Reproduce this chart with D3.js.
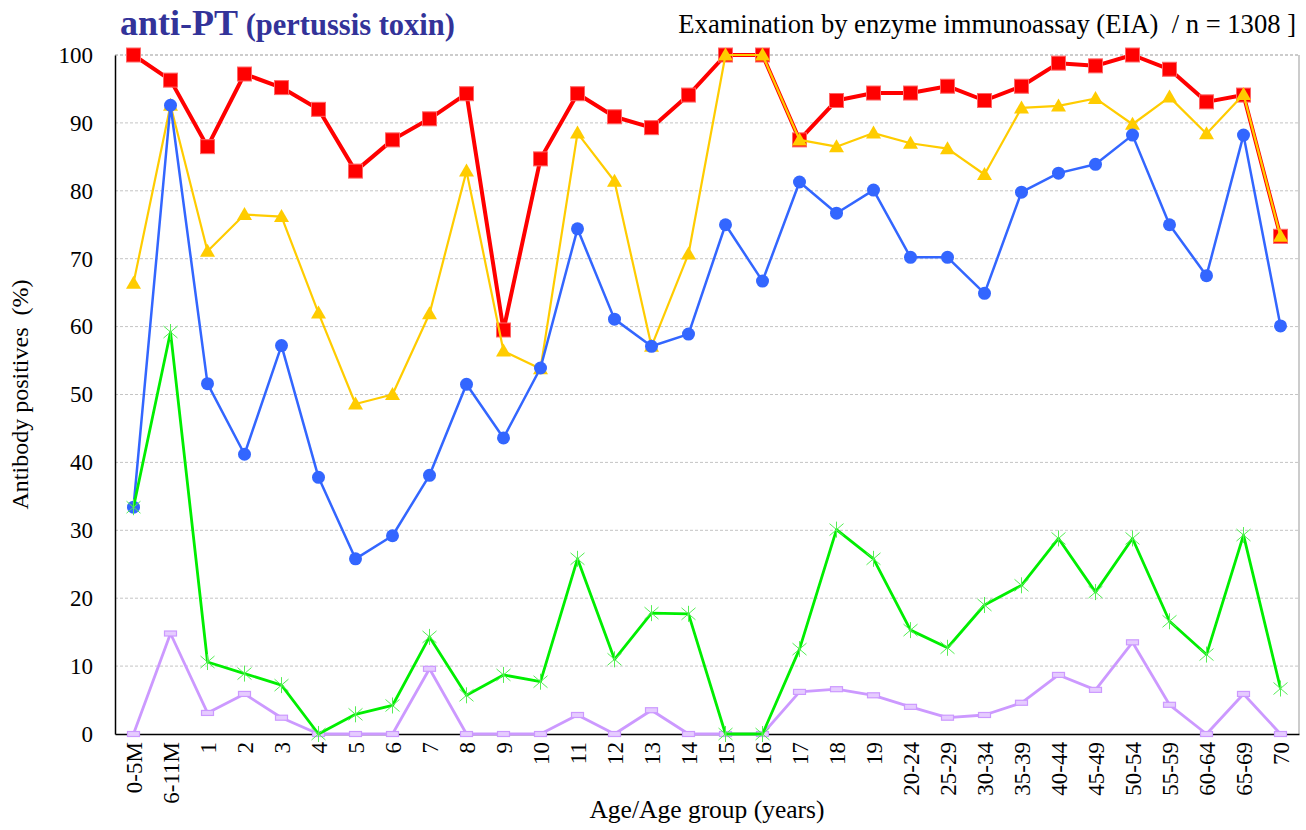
<!DOCTYPE html>
<html>
<head>
<meta charset="utf-8">
<script src="https://cdn.jsdelivr.net/npm/d3@7"></script>
<style>
  html, body { margin: 0; padding: 0; background: #fff; }
  svg { display: block; }
  text { font-family: "Liberation Serif", "Times New Roman", serif; white-space: pre; }
</style>
</head>
<body>
<script>
const categories = ["0-5M","6-11M","1","2","3","4","5","6","7","8","9","10","11","12","13","14","15","16","17","18","19","20-24","25-29","30-34","35-39","40-44","45-49","50-54","55-59","60-64","65-69","70"];
const yTicks = [0,10,20,30,40,50,60,70,80,90,100];

// series values (% antibody positive) by cutoff
const redValues    = [100,96.3,86.5,97.2,95.2,92.0,82.9,87.5,90.6,94.3,59.5,84.7,94.3,90.9,89.3,94.1,100,100,87.5,93.3,94.4,94.4,95.4,93.3,95.4,98.8,98.4,100,97.9,93.1,94.1,73.3];
const yellowValues = [66.4,92.6,71.1,76.5,76.2,62.0,48.6,50.0,61.9,82.9,56.4,53.8,88.5,81.4,57.1,70.7,100,100,87.5,86.5,88.5,87.0,86.2,82.4,92.2,92.5,93.6,89.8,93.8,88.4,94.2,73.3];
const blueValues   = [33.4,92.6,51.6,41.2,57.2,37.8,25.8,29.2,38.1,51.5,43.6,53.9,74.4,61.1,57.1,58.9,75.0,66.7,81.3,76.7,80.1,70.2,70.2,64.9,79.8,82.6,83.9,88.2,75.0,67.5,88.2,60.1];
const greenValues  = [33.4,59.2,10.6,8.9,7.2,0,2.9,4.2,14.3,5.7,8.7,7.7,25.8,11.0,17.8,17.7,0,0,12.5,30.1,25.8,15.3,12.7,19.0,21.9,28.8,20.9,28.8,16.6,11.7,29.3,6.7];
const purpleValues = [0,14.8,3.1,5.9,2.4,0,0,0,9.6,0,0,0,2.8,0,3.5,0,0,0,6.2,6.6,5.7,4.0,2.4,2.8,4.6,8.7,6.5,13.5,4.3,0,5.9,0];

const W = 1306, H = 830;
const margin = {left: 115, right: 7, top: 55, bottom: 96};

const svg = d3.select("body").append("svg").attr("width", W).attr("height", H);

const x = d3.scalePoint().domain(categories).range([margin.left, W - margin.right]).padding(0.5);
const y = d3.scaleLinear().domain([0, 100]).range([H - margin.bottom, margin.top]);

const x0 = margin.left, x1 = W - margin.right, y0 = H - margin.bottom, y1 = margin.top;

// gridlines
svg.append("g").selectAll("line").data(yTicks.filter(d => d > 0)).join("line")
  .attr("x1", x0).attr("x2", x1)
  .attr("y1", d => y(d)).attr("y2", d => y(d))
  .attr("stroke", d => d === 100 ? "#999" : "#c4c4c4")
  .attr("stroke-width", 1)
  .attr("stroke-dasharray", "3,2");

// right border
svg.append("line").attr("x1", x1).attr("x2", x1).attr("y1", y1).attr("y2", y0)
  .attr("stroke", "#999").attr("stroke-width", 1);

// y axis
const yAxis = d3.axisLeft(y).tickValues(yTicks).tickSize(0).tickPadding(22);
const gy = svg.append("g").attr("transform", `translate(${x0},0)`).call(yAxis);
gy.select(".domain").attr("stroke", "#000").attr("stroke-width", 1.5);
gy.selectAll("text").attr("font-size", 23).attr("fill", "#000");

// x axis
const xAxis = d3.axisBottom(x).tickSize(0).tickPadding(0);
const gx = svg.append("g").attr("transform", `translate(0,${y0})`).call(xAxis);
gx.select(".domain").attr("stroke", "#000").attr("stroke-width", 1.5);
gx.selectAll("text")
  .attr("font-size", 23).attr("fill", "#000")
  .attr("text-anchor", "end")
  .attr("transform", "rotate(-90)")
  .attr("x", -8).attr("y", 0).attr("dy", "0.35em");

// axis titles
svg.append("text").attr("transform", `translate(28,${(y0 + y1) / 2}) rotate(-90)`)
  .attr("text-anchor", "middle").attr("font-size", 24).text("Antibody positives  (%)");
svg.append("text").attr("x", (x0 + x1) / 2).attr("y", 818)
  .attr("text-anchor", "middle").attr("font-size", 25.5).text("Age/Age group (years)");

// title
const t = svg.append("text").attr("x", 120).attr("y", 35).attr("fill", "#333399").attr("font-weight", "bold");
t.append("tspan").attr("font-size", 36).text("anti-PT");
t.append("tspan").attr("font-size", 30.5).text(" (pertussis toxin)");
svg.append("text").attr("x", 1296).attr("y", 33).attr("text-anchor", "end").attr("font-size", 26.6)
  .text("Examination by enzyme immunoassay (EIA)  / n = 1308 ]");

const line = d3.line().x((d, i) => x(categories[i])).y(d => y(d));

function drawSeries(values, color, width, marker) {
  const g = svg.append("g");
  g.append("path").datum(values).attr("d", line).attr("fill", "none")
    .attr("stroke", color).attr("stroke-width", width).attr("stroke-linejoin", "round");
  const m = g.selectAll("g.m").data(values).join("g")
    .attr("transform", (d, i) => `translate(${x(categories[i])},${y(d)})`);
  marker(m);
}

// red squares
drawSeries(redValues, "#ff0000", 4, m => m.append("rect")
  .attr("x", -7).attr("y", -7).attr("width", 14).attr("height", 14)
  .attr("fill", "#ff0000").attr("stroke", "#ff6666").attr("stroke-width", 1));

// yellow triangles
drawSeries(yellowValues, "#ffcc00", 2.2, m => m.append("path")
  .attr("d", "M0,-7.5L7.5,5.5L-7.5,5.5Z").attr("fill", "#ffcc00"));

// blue circles
drawSeries(blueValues, "#3366ff", 2.5, m => m.append("circle")
  .attr("r", 6.5).attr("fill", "#3366ff"));

// purple small bars
drawSeries(purpleValues, "#cc99ff", 2.8, m => m.append("rect")
  .attr("x", -6).attr("y", -2.5).attr("width", 12).attr("height", 5)
  .attr("fill", "#e6ccff").attr("stroke", "#cc99ff").attr("stroke-width", 1.2));

// green asterisks
drawSeries(greenValues, "#00ee00", 2.8, m => m.append("path")
  .attr("d", "M0,-8V8M-7,-6L7,6M-7,6L7,-6").attr("stroke", "#55ee55").attr("stroke-width", 1).attr("fill", "none"));
</script>
</body>
</html>
